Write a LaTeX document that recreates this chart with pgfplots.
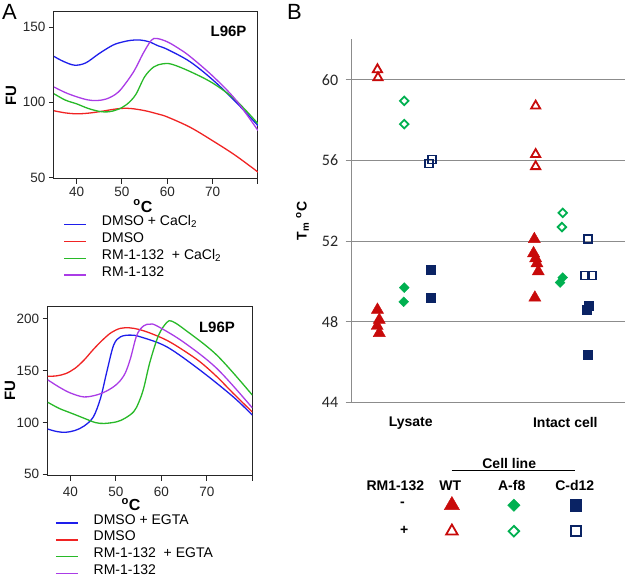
\documentclass[border=0pt]{standalone}
\usepackage{pgfplots}
\pgfplotsset{compat=1.18}
\usepackage{fontspec}
\setmainfont{Liberation Sans}
\newfontfamily\calibri{Carlito}

\definecolor{cblue}{RGB}{30,30,235}
\definecolor{cred}{RGB}{240,35,35}
\definecolor{cgreen}{RGB}{40,185,40}
\definecolor{cpurple}{RGB}{170,60,230}
\definecolor{bred}{RGB}{200,10,10}
\definecolor{bgreen}{RGB}{0,176,80}
\definecolor{bnavy}{RGB}{10,35,100}

\pgfplotsset{
  panelA/.style={
    scale only axis, xmin=35, xmax=80,
    xtick={40,50,60,70,80}, xticklabels={40,50,60,70,{}},
    tick align=outside, tick pos=left, major tick length=5pt,
    axis line style={line width=1pt, black!85},
    tick style={line width=1pt, black!85},
    ticklabel style={font=\fontsize{13.5}{15}\selectfont, text=black!85},
    /pgf/number format/assume math mode=true,
    every axis plot/.append style={line width=1.3pt, smooth, tension=0.55, no markers},
    legend cell align=left,
    legend image code/.code={\draw[##1, line width=1.5pt] (0pt,0pt) -- (22pt,0pt);},
    legend style={draw=none, fill=none, inner sep=0pt, anchor=north west,
      font=\fontsize{14}{16}\selectfont,
      nodes={inner sep=0pt, text height=9.5pt, text depth=7.3pt},
      /tikz/every odd column/.append style={column sep=15pt}},
    every axis y label/.style={rotate=90, anchor=center, font=\bfseries\fontsize{15}{16}\selectfont},
    every axis x label/.style={anchor=center, inner sep=0pt, font=\bfseries\fontsize{16}{17}\selectfont},
  },
  bpt/.style={only marks,
    legend image code/.code={\path[draw=none, fill=none] (-30.5pt,-13pt) rectangle (30.5pt,13pt);
      \draw[##1, every mark/.append style={scale=1.25}] plot coordinates {(0pt,0pt)};}},
}

\begin{document}
\begin{tikzpicture}
\useasboundingbox (0pt,0pt) rectangle (625pt,-583pt);

% ---- panel A, CaCl2
\begin{axis}[panelA, at={(54pt,-179pt)}, anchor=south west,
  width=204pt, height=167pt, ymin=49.1, ymax=160, ytick={50,100,150},
  ylabel={FU}, ylabel style={at={(axis description cs:-0.211,0.5)}},
  xlabel={\textsuperscript{o}C}, xlabel style={at={(axis description cs:0.436,-0.162)}},
  legend style={at={(axis description cs:0.0456,-0.222)}},
]
\addplot[cblue] coordinates {(35,130.5)(37,127.3)(39.5,124.7)(42,126.2)(45,132.5)(48,138)(50,140)(52,141.2)(54,141.4)(56,140.2)(58,137.5)(60,135.2)(65,127)(70,115)(75,100.6)(80,84.5)};
\addlegendentry{DMSO + CaCl\textsubscript{2}}
\addplot[cred] coordinates {(35,94.4)(37.5,93)(40,92.4)(42.5,92.8)(45,93.8)(48,95.3)(50,96)(52,95.9)(55,94.5)(58,92.2)(60,90.3)(65,83.5)(70,74.5)(75,64.8)(80,53.7)};
\addlegendentry{DMSO}
\addplot[cgreen] coordinates {(35,105.7)(37.5,101.5)(40,99)(42.5,96)(45,94)(47,93.7)(49,95.2)(51,98.5)(53,105)(55,117)(57,123.5)(59,125.6)(61,125.3)(65,120.5)(70,112.8)(75,101.7)(80,85.8)};
\addlegendentry{RM-1-132 \ + CaCl\textsubscript{2}}
\addplot[cpurple] coordinates {(35,110.2)(37.5,106.5)(40,103.7)(42.5,101.6)(44.5,101.2)(46.5,102.2)(48.5,105.2)(50,109.5)(52.6,120.5)(54.7,132.7)(56.5,141.3)(57.7,142.4)(60,140.2)(62.5,135.8)(65,130.5)(70,117.5)(75,102)(80,81.3)};
\addlegendentry{RM-1-132}
\node[anchor=east, font=\bfseries\fontsize{15}{16}\selectfont] at (rel axis cs:0.961,0.886) {L96P};
\end{axis}

% ---- panel A, EGTA
\begin{axis}[panelA, at={(47.7pt,-475.7pt)}, anchor=south west,
  width=204.6pt, height=169.7pt, ymin=48.7, ymax=212, ytick={50,100,150,200},
  xticklabel style={yshift=-3pt},
  ylabel={FU}, ylabel style={at={(axis description cs:-0.184,0.5)}},
  xlabel={\textsuperscript{o}C}, xlabel style={at={(axis description cs:0.407,-0.17)}},
  legend style={at={(axis description cs:0.0357,-0.228)}},
]
\addplot[cblue] coordinates {(35,93.6)(37,91.2)(38.9,90.5)(41,92.2)(43,96.5)(45,105)(46.6,123)(48,148.7)(49.5,174.3)(51,182.3)(53.2,184)(55.4,182.3)(61.2,172.7)(68.5,150.3)(75.8,124.6)(80,107)};
\addlegendentry{DMSO + EGTA}
\addplot[cred] coordinates {(35,144.3)(37,144.8)(39,147)(41,152)(43,160)(45,170)(47,179)(49,186.5)(51,190.5)(53,191)(55,189.5)(57.5,186)(61.2,179)(64.8,169.5)(68.5,158.3)(72.2,144)(75.8,128)(80,110)};
\addlegendentry{DMSO}
\addplot[cgreen] coordinates {(35,119.4)(37.5,113.5)(40,109.2)(43,104)(45.5,99.8)(47.5,99)(50.2,100.6)(52,104)(53.9,110.2)(55,119)(56.1,132.7)(57.5,158.3)(59.4,184)(61.2,196.2)(62.3,197.4)(64.8,190.4)(72.2,164.7)(80,126.3)};
\addlegendentry{RM-1-132 \ + EGTA}
\addplot[cpurple] coordinates {(35,141)(37.5,134)(40,128.3)(43,124.5)(46,126.7)(48.5,131.5)(50.5,138)(52,147)(53.2,161.5)(54.6,184)(56.1,192.9)(57.5,194.5)(59,192.9)(64.8,177.5)(72.2,151.9)(80,114)};
\addlegendentry{RM-1-132}
\node[anchor=east, font=\bfseries\fontsize{15}{16}\selectfont] at (rel axis cs:0.932,0.876) {L96P};
\end{axis}

% ---- panel B, Tm
\begin{axis}[at={(351.7pt,-402.7pt)}, anchor=south west, scale only axis,
  width=273.3pt, height=363.4pt, xmin=0, xmax=10.4, ymin=44, ymax=62,
  axis x line=bottom, axis y line=left, clip=false,
  axis line style={-, draw=gray!90, line width=1pt},
  ytick={44,48,52,56,60}, ymajorgrids, grid style={gray!90, line width=1pt},
  y tick style={gray!90, line width=1pt}, tick align=outside, major tick length=6pt,
  yticklabel style={font=\calibri\fontsize{16}{17}\selectfont, text=black!85, xshift=-4pt},
  xtick={2.245,8.13}, xticklabels={Lysate,Intact cell},
  x tick style={draw=none},
  xticklabel style={font=\bfseries\fontsize{14}{15}\selectfont, yshift=-5pt},
  /pgf/number format/assume math mode=true,
  ylabel={T\textsubscript{m} \textsuperscript{o}C},
  every axis y label/.style={at={(axis description cs:-0.18,0.5)}, rotate=90, anchor=center,
    font=\bfseries\fontsize{14}{15}\selectfont},
  legend columns=3,
  legend style={at={(axis description cs:0.2543,-0.2457)}, anchor=north west,
    draw=none, fill=none, inner sep=0pt, column sep=0pt, row sep=0pt, nodes={inner sep=0pt}},
]
\addplot[bpt, bred, mark=triangle*, mark size=7pt] coordinates {(0.98,48.6)(1.05,48.1)(0.97,47.8)(1.05,47.45)(6.95,52.1)(6.92,51.4)(7.0,51.15)(7.05,50.9)(7.1,50.5)(6.97,49.2)};
\addlegendentry{\mbox{}}
\addplot[bpt, bgreen, mark=square*, mark options={rotate=45}, mark size=3.5pt] coordinates {(2,49.7)(1.98,49.0)(8.03,50.2)(7.93,49.95)};
\addlegendentry{\mbox{}}
\addplot[bpt, bnavy, mark=square*, mark size=4.5pt] coordinates {(3,50.6)(3,49.2)(9.0,48.8)(8.94,48.6)(8.98,46.4)};
\addlegendentry{\mbox{}}
\addplot[bpt, bred, mark=triangle, mark size=5.3pt, mark options={line width=1.8pt}] coordinates {(0.98,60.5)(1.0,60.1)(7.0,58.7)(7.0,56.3)(7.0,55.7)};
\addlegendentry{\mbox{}}
\addplot[bpt, bgreen, mark=square, mark size=3pt, mark options={rotate=45, line width=1.8pt}] coordinates {(2,58.95)(2,57.8)(8.03,53.4)(8.0,52.7)};
\addlegendentry{\mbox{}}
\addplot[bpt, bnavy, mark=square, mark size=4pt, mark options={line width=1.8pt}] coordinates {(2.95,55.85)(3.05,56.05)(9.0,52.1)(8.88,50.3)(9.13,50.3)};
\addlegendentry{\mbox{}}
\end{axis}

\begin{scope}[font=\bfseries\fontsize{14}{15}\selectfont]
\node[anchor=base] at (509.2pt,-468.3pt) {Cell line};
\draw[line width=0.8pt] (451.7pt,-470.7pt) -- (575pt,-470.7pt);
\node[anchor=base] at (395.3pt,-490pt) {RM1-132};
\node[anchor=base] at (450.3pt,-490pt) {WT};
\node[anchor=base] at (511.7pt,-490pt) {A-f8};
\node[anchor=base] at (574.7pt,-490pt) {C-d12};
\node at (402.5pt,-504pt) {-};
\node at (404.3pt,-530.5pt) {+};
\end{scope}

\node[anchor=base west, inner sep=0pt, font=\fontsize{22}{24}\selectfont] at (2pt,-20pt) {A};
\node[anchor=base west, inner sep=0pt, font=\fontsize{22}{24}\selectfont] at (287pt,-20pt) {B};
\end{tikzpicture}
\end{document}
